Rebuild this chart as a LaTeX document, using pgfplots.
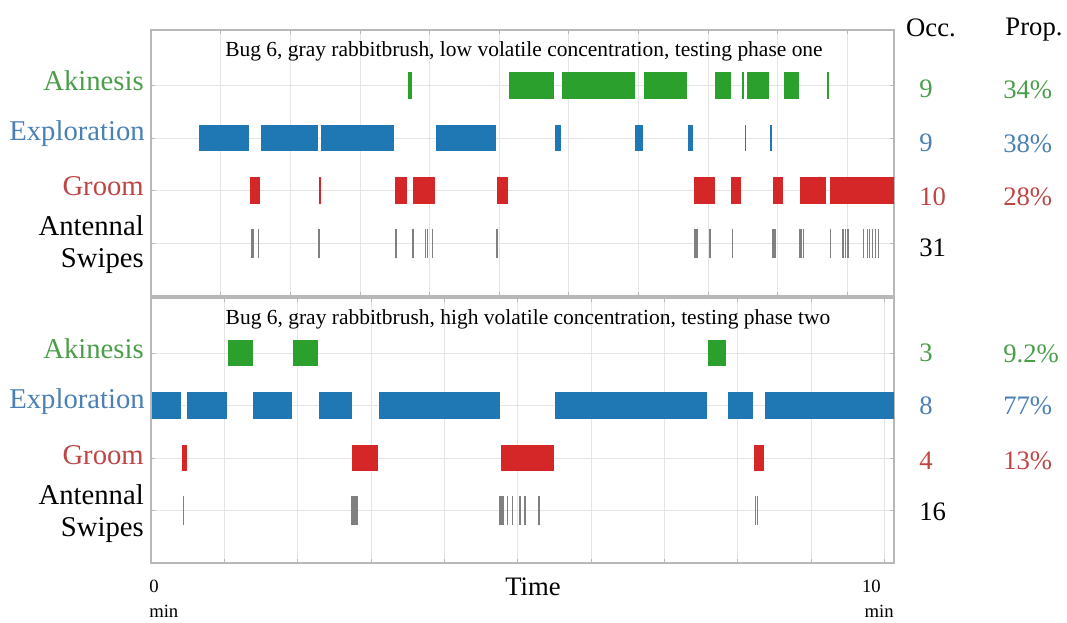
\documentclass[border=0pt]{standalone}
\usepackage{pgfplots}
\pgfplotsset{compat=1.18}
\usepackage{pgfplotstable}
\usepackage{fontspec}
\setmainfont{Liberation Serif}

\definecolor{tabgreen}{HTML}{2CA02C}
\definecolor{tabblue}{HTML}{1F77B4}
\definecolor{tabred}{HTML}{D62728}
\definecolor{txtgreen}{HTML}{4A9E4A}
\definecolor{txtblue}{HTML}{4A80B4}
\definecolor{txtred}{HTML}{BF4545}
\definecolor{swipegray}{HTML}{808080}
\definecolor{gridgray}{HTML}{E4E4E4}
\definecolor{framegray}{HTML}{B8B8B8}

% ---------- phase one (top) ----------
\pgfplotstableread{
s e
3.68 3.76
5.13 5.80
5.89 6.95
7.07 7.70
8.10 8.33
8.48 8.52
8.55 8.88
9.08 9.31
9.70 9.74
}\akinTop
\pgfplotstableread{
s e
0.68 1.41
1.57 2.40
2.44 3.50
4.09 4.96
5.80 5.89
6.95 7.07
7.70 7.79
8.52 8.55
8.88 8.93
}\explTop
\pgfplotstableread{
s e
1.41 1.57
2.40 2.44
3.50 3.68
3.76 4.09
4.96 5.13
7.79 8.10
8.33 8.48
8.93 9.08
9.31 9.70
9.74 10.67
}\groomTop
\pgfplotstableread{
t y
1.45 1
1.47 1
1.54 1
2.41 1
3.52 1
3.76 1
3.94 1
3.97 1
4.04 1
4.97 1
7.81 1
7.83 1
7.85 1
8.03 1
8.35 1
8.93 1
8.95 1
8.97 1
9.32 1
9.34 1
9.37 1
9.76 1
9.94 1
9.97 1
10.01 1
10.23 1
10.29 1
10.32 1
10.36 1
10.40 1
10.45 1
}\swTop

% ---------- phase two (bottom) ----------
\pgfplotstableread{
s e
1.04 1.39
1.93 2.28
7.59 7.84
}\akinBot
\pgfplotstableread{
s e
0.01 0.41
0.49 1.04
1.39 1.93
2.28 2.74
3.10 4.76
5.50 7.59
7.86 8.21
8.36 10.13
}\explBot
\pgfplotstableread{
s e
0.41 0.49
2.74 3.10
4.76 5.50
8.21 8.36
}\groomBot
\pgfplotstableread{
t y
0.44 1
2.73 1
2.75 1
2.77 1
2.79 1
2.81 1
4.76 1
4.78 1
4.80 1
4.86 1
4.93 1
5.03 1
5.10 1
5.29 1
8.24 1
8.27 1
}\swBot

\newcommand{\bars}[3]{%
\addplot[draw=none, mark=none, mark size=0pt, mark options={draw=none,fill=none}, forget plot,
  error bars/.cd, x dir=both, x explicit, error mark=none,
  error bar style={line width=20pt, draw=#3}]
  table[x expr={(\thisrow{s}+\thisrow{e})/2}, y expr={#2},
        x error expr={(\thisrow{e}-\thisrow{s})/2-0.006}] {#1};}
\newcommand{\swipes}[1]{%
\addplot[draw=none, mark=none, mark size=0pt, mark options={draw=none,fill=none}, forget plot,
  error bars/.cd, y dir=both, y fixed=0.28, error mark=none,
  error bar style={line width=1.05pt, draw=swipegray}]
  table[x=t, y=y] {#1};}

\pgfplotsset{panel/.style={
  scale only axis, width=557.25pt, xmin=0, ymin=0, ymax=5.05,
  xtick={0,1,...,10}, ytick={1,2,3,4},
  xticklabels={}, yticklabels={},
  grid=major, major grid style={draw=gridgray, line width=0.6pt},
  axis line style={draw=framegray, line width=1pt},
  tick style={draw=framegray, line width=0.6pt},
  tick align=inside, major tick length=3pt,
  clip=false}}

\begin{document}
\begin{tikzpicture}
\useasboundingbox (0,0) rectangle (800.25pt,-467.25pt);

\begin{axis}[panel, at={(113.25pt,-222pt)}, anchor=south west,
  height=199.5pt, xmax=10.67]
\bars{\akinTop}{4}{tabgreen}
\bars{\explTop}{3}{tabblue}
\bars{\groomTop}{2}{tabred}
\swipes{\swTop}
\end{axis}

\begin{axis}[panel, at={(113.25pt,-422.25pt)}, anchor=south west,
  height=198.75pt, xmax=10.13]
\bars{\akinBot}{4}{tabgreen}
\bars{\explBot}{3}{tabblue}
\bars{\groomBot}{2}{tabred}
\swipes{\swBot}
\end{axis}

\begin{scope}[x=0.75pt, y=-0.75pt]
\tikzset{lab/.style={anchor=east, font=\fontsize{21.5}{24}\selectfont, inner sep=0pt},
  num/.style={anchor=west, font=\fontsize{20}{22}\selectfont, inner sep=0pt},
  ttl/.style={font=\fontsize{16.1}{18}\selectfont, inner sep=0pt}}
% titles
\node[ttl] at (524,51) {Bug 6, gray rabbitbrush, low volatile concentration, testing phase one};
\node[ttl] at (528,319) {Bug 6, gray rabbitbrush, high volatile concentration, testing phase two};
% left labels top
\node[lab, text=txtgreen] at (144,81) {Akinesis};
\node[lab, text=txtblue] at (145,134) {Exploration};
\node[lab, text=txtred] at (144,186) {Groom};
\node[lab, align=right] at (144,245) {Antennal\\Swipes};
% left labels bottom
\node[lab, text=txtgreen] at (144,349) {Akinesis};
\node[lab, text=txtblue] at (145,402) {Exploration};
\node[lab, text=txtred] at (144,455) {Groom};
\node[lab, align=right] at (144,514) {Antennal\\Swipes};
% column heads
\node[num, anchor=center] at (931,28) {Occ.};
\node[num, anchor=center] at (1034,30) {Prop.};
% top numbers
\node[num, text=txtgreen] at (919,89) {9};
\node[num, text=txtblue] at (919,143) {9};
\node[num, text=txtred] at (919,197) {10};
\node[num] at (919,248) {31};
\node[num, text=txtgreen] at (1003,90) {34\%};
\node[num, text=txtblue] at (1003,144) {38\%};
\node[num, text=txtred] at (1003,197) {28\%};
% bottom numbers
\node[num, text=txtgreen] at (919,353) {3};
\node[num, text=txtblue] at (919,406) {8};
\node[num, text=txtred] at (919,461) {4};
\node[num] at (919,512) {16};
\node[num, text=txtgreen] at (1003,354) {9.2\%};
\node[num, text=txtblue] at (1003,406) {77\%};
\node[num, text=txtred] at (1003,461) {13\%};
% x axis text
\node[font=\fontsize{20}{22}\selectfont, inner sep=0pt] at (533,587) {Time};
\node[anchor=west, font=\fontsize{14}{16}\selectfont, inner sep=0pt] at (149,586) {0};
\node[anchor=west, font=\fontsize{14}{16}\selectfont, inner sep=0pt] at (149,611) {min};
\node[anchor=east, font=\fontsize{14}{16}\selectfont, inner sep=0pt] at (881,586) {10};
\node[anchor=east, font=\fontsize{14}{16}\selectfont, inner sep=0pt] at (894,611) {min};
\end{scope}
\end{tikzpicture}
\end{document}
